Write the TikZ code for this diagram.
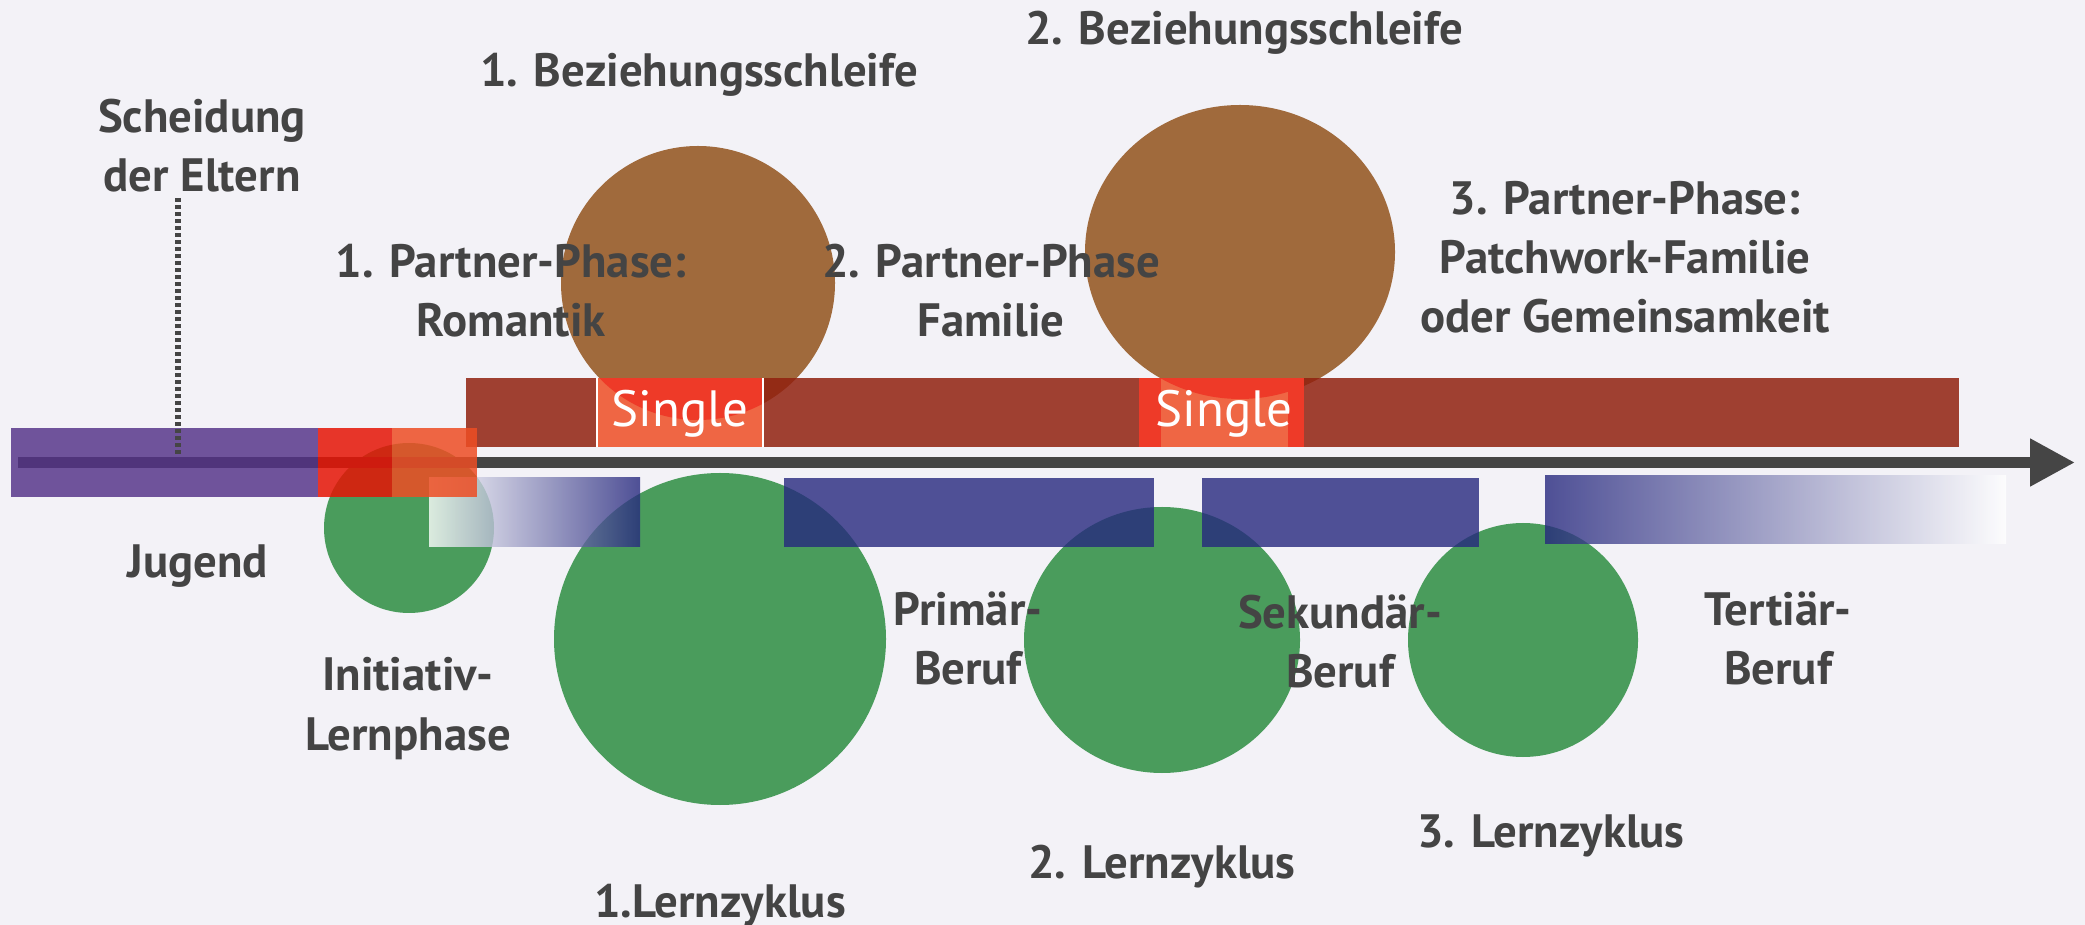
\documentclass[tikz,border=0pt]{standalone}
\usepackage{fontspec}
\setmainfont{PT Sans}
\usetikzlibrary{arrows.meta}
\definecolor{bgcol}{RGB}{243,242,247}
\definecolor{txtcol}{RGB}{68,68,68}
\definecolor{axiscol}{RGB}{69,69,69}
\definecolor{brownc}{RGB}{160,106,60}
\definecolor{greenc}{RGB}{74,156,92}
\definecolor{relcol}{RGB}{145,33,15}
\definecolor{jobcol}{RGB}{38,40,126}
\definecolor{purplecol}{RGB}{83,49,135}
\definecolor{redcol}{RGB}{230,20,6}
\definecolor{orangecol}{RGB}{238,77,36}
\definecolor{singleorange}{RGB}{239,102,68}
\definecolor{singlered}{RGB}{238,58,40}
\tikzset{
 lbl/.style={font=\bfseries\fontsize{13.3}{16.8}\selectfont, text=txtcol, align=center, inner sep=0pt, anchor=base},
 singletxt/.style={font=\fontsize{14.5}{16}\selectfont, text=white, inner sep=0pt, anchor=base},
 jobbox/.style={fill=jobcol, fill opacity=.8}
}
\begin{document}
\begin{tikzpicture}[x=0.01cm, y=-0.01cm]
\useasboundingbox (0,0) rectangle (2085,925);
\fill[bgcol] (0,0) rectangle (2085,925);
% Beziehungsschleifen
\fill[brownc] (698,283) circle (137);
\fill[brownc] (1240,252) ellipse [x radius=155, y radius=147];
% Lernzyklen
\foreach \cx/\cy/\rx/\ry in {409/528/85/85, 720/639/166/166, 1162/640/138/133, 1523/640/115/117}
 \fill[greenc] (\cx,\cy) ellipse [x radius=\rx, y radius=\ry];
\coordinate (tstart) at (18,462.5);
\coordinate (tend) at (2075,462.5);
\draw[axiscol, line width=0.11cm, -{Triangle[length=0.45cm, width=0.45cm]}] (tstart) -- (tend);
\fill[relcol, fill opacity=.85] (466,378) rectangle (1959,447);
% Single
\fill[singleorange] (597,378) rectangle (763,447);
\begin{scope}
 \clip (698,283) circle (137);
 \fill[singlered] (597,378) rectangle (763,447);
\end{scope}
\draw[white, line width=0.02cm] (597,378) -- (597,447) (763,378) -- (763,447);
\fill[singlered] (1139,378) rectangle (1304,447);
\fill[singleorange] (1161,378) rectangle (1288,447);
\begin{scope}
 \clip (1240,252) ellipse [x radius=155, y radius=147];
 \fill[singlered] (1161,378) rectangle (1288,447);
\end{scope}
\node[singletxt] (single1) at (680,427) {Single};
\node[singletxt] (single2) at (1224,427) {Single};
% Berufe
\shade[left color=white, right color=jobcol, fill opacity=.8] (429,478) rectangle (640,547);
\foreach \xa/\xb in {784/1154, 1202/1479}
 \fill[jobbox] (\xa,478) rectangle (\xb,547);
\shade[left color=jobcol, right color=white, fill opacity=.8] (1545,476) rectangle (2006,544);
% Jugend
\fill[purplecol, fill opacity=.82] (11,428) rectangle (318,497);
\fill[redcol, fill opacity=.85] (318,428) rectangle (392,497);
\fill[orangecol, fill opacity=.85] (392,428) rectangle (477,497);
\coordinate (divorce) at (178,198);
\coordinate (divend) at (178,457);
\draw[axiscol, line width=0.06cm, dash pattern=on 0.04cm off 0.03cm] (divorce) -- (divend);
\node[lbl] (scheidung) at (202,192) {Scheidung\\der Eltern};
\node[lbl] (bez1) at (699,87) {1. Beziehungsschleife};
\node[lbl] (bez2) at (1244,45) {2. Beziehungsschleife};
\node[lbl] (partner1) at (511,337) {1. Partner-Phase:\\Romantik};
\node[lbl] (partner2) at (991,337) {2. Partner-Phase\\Familie};
\node[lbl] (partner3) at (1625,333) {3. Partner-Phase:\\Patchwork-Familie\\oder Gemeinsamkeit};
\node[lbl] (jugend) at (198,578) {Jugend};
\node[lbl] (initiativ) at (408,750) {Initiativ-\\Lernphase};
\node[lbl] (primaer) at (968,685) {Primär-\\Beruf};
\node[lbl] (sekundaer) at (1340,688) {Sekundär-\\Beruf};
\node[lbl] (tertiaer) at (1778,685) {Tertiär-\\Beruf};
\node[lbl] (lern1) at (720,917) {1.Lernzyklus};
\node[lbl] (lern2) at (1162,878) {2. Lernzyklus};
\node[lbl] (lern3) at (1551,847) {3. Lernzyklus};
\end{tikzpicture}
\end{document}
